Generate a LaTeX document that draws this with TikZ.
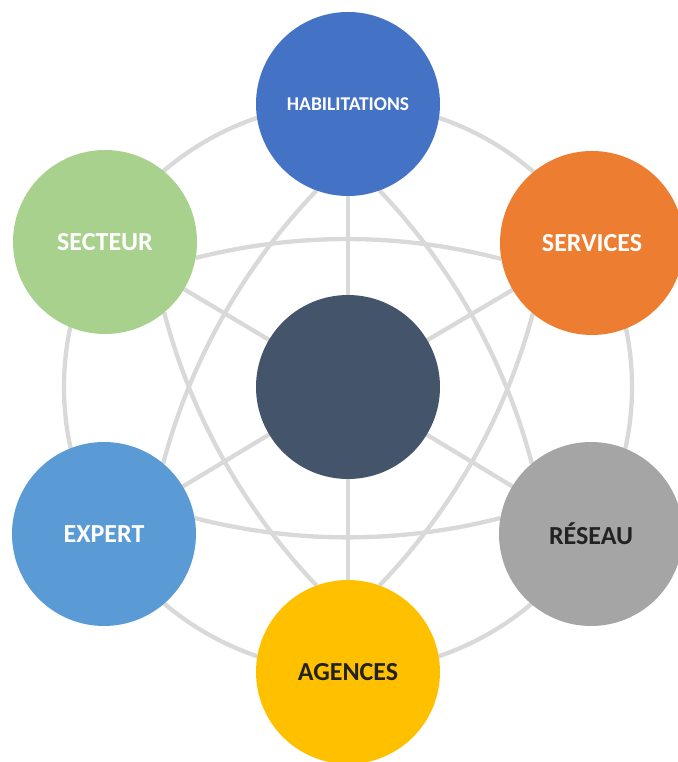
\documentclass[tikz,border=0pt]{standalone}
\usepackage{fontspec}
\setmainfont{Carlito}
\usetikzlibrary{backgrounds}
\definecolor{cHab}{HTML}{4472C4}
\definecolor{cServ}{HTML}{ED7D31}
\definecolor{cRes}{HTML}{A5A5A5}
\definecolor{cAg}{HTML}{FFC000}
\definecolor{cExp}{HTML}{5B9BD5}
\definecolor{cSec}{HTML}{A9D18E}
\definecolor{cCtr}{HTML}{44546A}
\definecolor{lineGray}{HTML}{D9D9D9}
\definecolor{darkText}{HTML}{222222}
\begin{document}
\begin{tikzpicture}[x=1pt,y=1pt,
  bubble/.style={circle, minimum size=184pt, inner sep=0pt, outer sep=0pt,
    font=\bfseries\fontsize{26}{26}\selectfont},
  link/.style={draw=lineGray, line width=4.3pt},
  arcl/.style={link, bend left=14.4, looseness=0.87}]
\useasboundingbox (-348,-375) rectangle (329,387);
\node[bubble, fill=cCtr] (ctr) at (0,0) {};
\node[bubble, fill=cHab, text=white, font=\bfseries\fontsize{19.5}{19.5}\selectfont] (hab) at (0,283) {HABILITATIONS};
\node[bubble, fill=cServ, text=white] (serv) at (244,144) {SERVICES};
\node[bubble, fill=cRes, text=darkText] (res) at (243,-147) {RÉSEAU};
\node[bubble, fill=cAg, text=darkText] (ag) at (0,-285) {AGENCES};
\node[bubble, fill=cExp, text=white] (exp) at (-244,-147) {EXPERT};
\node[bubble, fill=cSec, text=white] (sec) at (-243,145) {SECTEUR};
\begin{scope}[on background layer]
\draw[link] (ctr.center) circle[radius=284pt];
\foreach \n in {hab,serv,res,ag,exp,sec} \draw[link] (ctr) -- (\n);
\draw[arcl] (sec.-10) to (serv.190);
\draw[arcl] (hab.-70) to (res.130);
\draw[arcl] (serv.-130) to (ag.70);
\draw[arcl] (res.170) to (exp.10);
\draw[arcl] (ag.110) to (sec.-50);
\draw[arcl] (exp.50) to (hab.250);
\end{scope}
\end{tikzpicture}
\end{document}
